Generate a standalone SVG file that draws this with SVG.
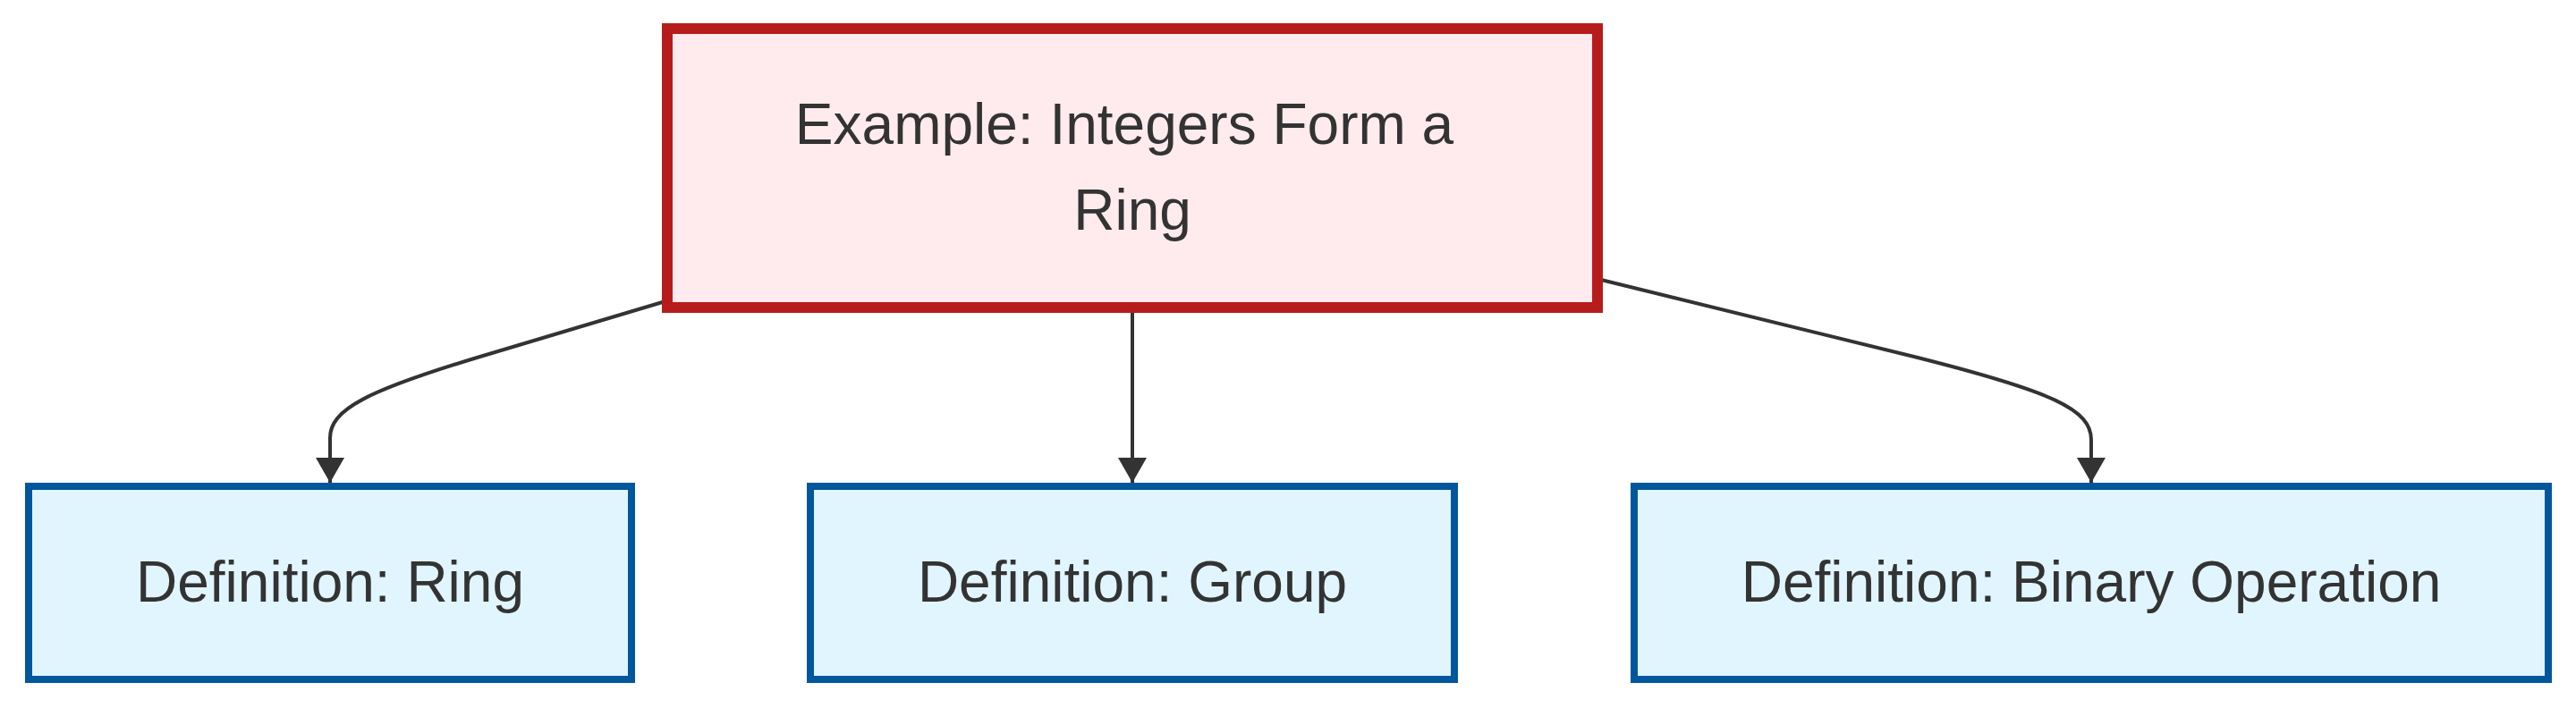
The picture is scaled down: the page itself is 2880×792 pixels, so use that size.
<svg xmlns="http://www.w3.org/2000/svg" width="2880" height="792" viewBox="0 0 2880 792">
<style>
.lbl{font-family:"Liberation Sans",Arial,sans-serif;font-size:64px;fill:#333333;text-anchor:middle}
.ex{fill:#ffebee;stroke:#b71c1c;stroke-width:12}
.def{fill:#e1f5fe;stroke:#01579b;stroke-width:8}
.edge{fill:none;stroke:#333333;stroke-width:4}
</style>
<defs>
<marker id="arrow" markerUnits="userSpaceOnUse" markerWidth="28" markerHeight="32" viewBox="0 0 28 32" refX="28" refY="16" orient="auto">
<path d="M0,0 L28,16 L0,32 z" fill="#333333"/>
</marker>
</defs>
<rect width="2880" height="792" fill="#ffffff"/>
<g id="connectors">
<path class="edge" d="M744,337 L540,398 C410,437 369,458 369,490 L369,540" marker-end="url(#arrow)"/>
<path class="edge" d="M1266,350 L1266,540" marker-end="url(#arrow)"/>
<path class="edge" d="M1786,312 L2140,399 C2295,438 2338,458 2338,492 L2338,540" marker-end="url(#arrow)"/>
</g>
<g id="example">
<rect class="ex" x="746" y="32" width="1040" height="312"/>
<text class="lbl" x="1257" y="161">Example: Integers Form a</text>
<text class="lbl" x="1266" y="257">Ring</text>
</g>
<g id="def-ring">
<rect class="def" x="32" y="544" width="674" height="216"/>
<text class="lbl" x="369" y="673">Definition: Ring</text>
</g>
<g id="def-group">
<rect class="def" x="906" y="544" width="720" height="216"/>
<text class="lbl" x="1266" y="673">Definition: Group</text>
</g>
<g id="def-binop">
<rect class="def" x="1827" y="544" width="1022" height="216"/>
<text class="lbl" x="2338" y="673">Definition: Binary Operation</text>
</g>
</svg>
